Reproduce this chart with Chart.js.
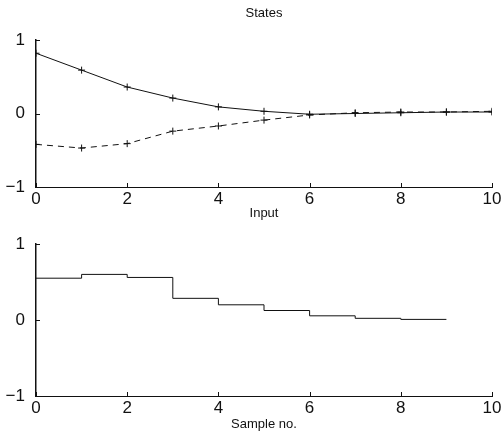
<!DOCTYPE html>
<html>
<head>
<meta charset="utf-8">
<script src="https://cdn.jsdelivr.net/npm/chart.js@4/dist/chart.umd.min.js"></script>
<style>
html,body{margin:0;padding:0;background:#fff;}
#wrap{position:relative;width:504px;height:435px;}
canvas{position:absolute;left:0;top:0;}
</style>
</head>
<body>
<div id="wrap">
<canvas id="top" width="504" height="435"></canvas>
<canvas id="bot" width="504" height="435"></canvas>
</div>
<script>
// ---- data ----
const sampleNo = [0,1,2,3,4,5,6,7,8,9,10];
const state1 = [0.82,0.59,0.36,0.21,0.09,0.03,-0.01,0.00,0.01,0.02,0.02];
const state2 = [-0.42,-0.47,-0.41,-0.24,-0.17,-0.09,-0.02,0.01,0.02,0.02,0.03];
const inputSteps = [0,1,2,3,4,5,6,7,8,9];
const inputValues = [0.55,0.60,0.56,0.285,0.20,0.125,0.055,0.022,0.008,0.008];
const xTicks = [0,2,4,6,8,10];
const yTicks = [-1,0,1];
const titles = ['States','Input'];
const xLabel = 'Sample no.';

const FONT = 'Liberation Sans, Arial, Helvetica, sans-serif';
const INK = '#111';

function pts(xs, ys){ return xs.map((x,i)=>({x:x, y:ys[i]})); }

const inwardTicks = {
  id:'inwardTicks',
  afterDraw(chart, args, opts){
    const ctx = chart.ctx, xs = chart.scales.x, ys = chart.scales.y;
    const a = chart.chartArea;
    ctx.save();
    ctx.strokeStyle = INK; ctx.lineWidth = 1;
    xTicks.forEach(v=>{
      const px = Math.round(xs.getPixelForValue(v))+0.5;
      ctx.beginPath(); ctx.moveTo(px, a.bottom); ctx.lineTo(px, a.bottom-4); ctx.stroke();
    });
    yTicks.forEach(v=>{
      const py = Math.round(ys.getPixelForValue(v))+0.5;
      ctx.beginPath(); ctx.moveTo(a.left, py); ctx.lineTo(a.left+4, py); ctx.stroke();
    });
    if (opts.title){
      ctx.fillStyle = INK;
      ctx.font = '13px ' + FONT;
      ctx.textAlign = 'center'; ctx.textBaseline = 'middle';
      ctx.fillText(opts.title, (a.left+a.right)/2, opts.titleY);
    }
    ctx.restore();
  }
};

function scales(xH, withXTitle){
  return {
    x:{type:'linear', min:0, max:10,
       afterBuildTicks(s){ s.ticks = xTicks.map(v=>({value:v})); },
       afterFit(s){ s.height = xH; },
       grid:{display:false, drawTicks:false},
       border:{display:true, color:INK, width:1},
       ticks:{color:INK, font:{family:FONT, size:17}, padding:2, maxRotation:0,
              callback:v=>String(v)},
       title: withXTitle ? {display:true, text:xLabel, color:INK, font:{family:FONT,size:13}, padding:{top:0,bottom:3}} : {display:false}
    },
    y:{type:'linear', min:-1, max:1,
       afterBuildTicks(s){ s.ticks = yTicks.map(v=>({value:v})); },
       afterFit(s){ s.width = 36; },
       grid:{display:false, drawTicks:false},
       border:{display:true, color:INK, width:1.5},
       ticks:{color:INK, font:{family:FONT, size:17}, padding:11,
              callback:v=> v<0 ? '\u2212'+Math.abs(v) : String(v)}
    }
  };
}

new Chart(document.getElementById('top'), {
  type:'line',
  data:{datasets:[
    {data:pts(sampleNo,state1), borderColor:INK, borderWidth:1, pointStyle:'cross', pointRadius:3.5, pointBorderColor:INK, pointBorderWidth:1, tension:0, fill:false},
    {data:pts(sampleNo,state2), borderColor:INK, borderWidth:1, borderDash:[6,5], pointStyle:'cross', pointRadius:3.5, pointBorderColor:INK, pointBorderWidth:1, tension:0, fill:false}
  ]},
  options:{
    responsive:false, animation:false, devicePixelRatio:1,
    layout:{padding:{top:40,left:0,right:12,bottom:218}},
    plugins:{legend:{display:false}, tooltip:{enabled:false}, inwardTicks:{title:titles[0], titleY:13}},
    scales:scales(30,false)
  },
  plugins:[inwardTicks]
});

new Chart(document.getElementById('bot'), {
  type:'line',
  data:{datasets:[
    {data:pts(inputSteps,inputValues), borderColor:INK, borderWidth:1, stepped:'before', pointRadius:0, fill:false}
  ]},
  options:{
    responsive:false, animation:false, devicePixelRatio:1,
    layout:{padding:{top:244,left:0,right:12,bottom:0}},
    plugins:{legend:{display:false}, tooltip:{enabled:false}, inwardTicks:{title:titles[1], titleY:213}},
    scales:scales(39,true)
  },
  plugins:[inwardTicks]
});
</script>
</body>
</html>
